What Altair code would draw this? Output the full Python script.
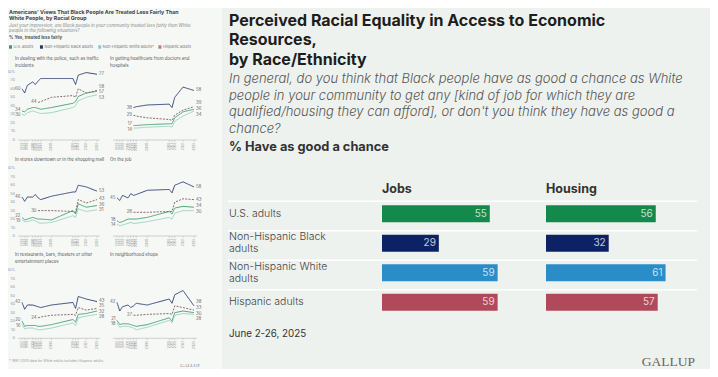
import altair as alt
import numpy as np
import pandas as pd

# ---------------- data: right panel (bar chart) ----------------
groups = ["U.S. adults", "Non-Hispanic Black adults", "Non-Hispanic White adults", "Hispanic adults"]
group_labels = ["U.S. adults", "Non-Hispanic Black\nadults", "Non-Hispanic White\nadults", "Hispanic adults"]
jobs = [55, 29, 59, 59]
housing = [56, 32, 61, 57]
bar_colors = ["#13894b", "#0d2265", "#2a8dc8", "#b04a5a"]

# ---------------- data: left panel (trend lines) ----------------
years = [1997, 1998, 1999, 2001, 2002, 2003, 2004, 2008, 2016, 2017, 2018, 2021, 2025]
series = ["U.S. adults", "Non-Hispanic Black adults", "Non-Hispanic White adults*", "Hispanic adults"]
line_colors = ["#3b9b66", "#27346a", "#93cfc0", "#7a5a60"]
legend_colors = ["#3b9b66", "#27346a", "#8cc3dc", "#c9727e"]
N = None

police_us = [34, 33, 36, 38, 38, 37, 36, 38, 43, 45, 51, 55, 57]
police_black = [60, 55, 64, 68, 65, 69, 72, 72, 72, 65, 76, 79, 77]
police_white = [30, 29, 32, 34, 33, 32, 31, 32, 38, 40, 46, 50, 53]
police_hisp = [N, N, N, N, N, 44, 45, 50, 52, 50, 60, 55, 58]

health_us = [N, N, N, N, N, 17, 17, 18, 19, 19, 26, 33, 36]
health_black = [N, N, N, N, N, 38, 39, 41, 42, 38, 50, 62, 58]
health_white = [N, N, N, N, N, 14, 14, 15, 16, 15, 22, 28, 34]
health_hisp = [N, N, N, N, N, 29, 28, 26, 24, 23, 29, 35, 39]

stores_us = [22, 19, 20, 22, 21, 20, 20, 19, 30, 26, 38, 34, 36]
stores_black = [46, 41, 46, 46, 49, 45, 43, 47, 52, 52, 60, 58, 53]
stores_white = [19, 17, 17, 19, 18, 16, 15, 16, 24, 22, 32, 29, 31]
stores_hisp = [N, N, N, N, N, 30, 30, 30, 29, 28, 43, 39, 43]

job_us = [18, 16, 17, 20, 20, 20, 20, 22, 29, 26, 33, 35, 34]
job_black = [45, 42, 48, 45, 50, 48, 49, 54, 55, 51, 60, 64, 58]
job_white = [14, 12, 13, 15, 16, 15, 15, 17, 22, 20, 27, 30, 30]
job_hisp = [N, N, N, N, N, 28, 28, 28, 29, 29, 40, 44, 43]

rest_us = [20, 14, 15, 15, 15, 14, 14, 16, 22, 19, 28, 29, 32]
rest_black = [42, 34, 39, 39, 38, 37, 36, 39, 42, 35, 49, 46, 43]
rest_white = [16, 11, 12, 12, 11, 10, 10, 12, 18, 15, 24, 26, 28]
rest_hisp = [N, N, N, N, N, 24, 25, 27, 28, 27, 36, 33, 35]

shop_us = [21, 16, 17, 17, 16, 15, 14, 16, 24, 20, 30, 32, 30]
shop_black = [42, 32, 37, 39, 36, 38, 41, 39, 46, 41, 51, 56, 38]
shop_white = [18, 13, 14, 14, 13, 12, 10, 13, 21, 18, 27, 29, 28]
shop_hisp = [N, N, N, N, N, 27, 27, 28, 29, 28, 38, 36, 33]

panel_titles = [
    "In dealing with the police, such as traffic\nincidents",
    "In getting healthcare from doctors and\nhospitals",
    "In stores downtown or in the shopping mall",
    "On the job",
    "In restaurants, bars, theaters or other\nentertainment places",
    "In neighborhood shops",
]
panel_values = [
    [police_us, police_black, police_white, police_hisp],
    [health_us, health_black, health_white, health_hisp],
    [stores_us, stores_black, stores_white, stores_hisp],
    [job_us, job_black, job_white, job_hisp],
    [rest_us, rest_black, rest_white, rest_hisp],
    [shop_us, shop_black, shop_white, shop_hisp],
]
y_ticks = [0, 10, 20, 30, 40, 50, 60, 70, 80]

# ---------------- layout ----------------
W, H = 702, 361
BG = "#eef2ee"
LEFT_BG = "#f6f8f5"
FONT = "Inter"
one = pd.DataFrame({"a": [0]})


def txt(s, x, y, size, weight="normal", style="normal", color="#222", font=FONT,
        align="left", lh=None, baseline="alphabetic"):
    props = dict(text=s, fontSize=size, fontWeight=weight, fontStyle=style, color=color,
                 font=font, align=align, baseline=baseline)
    if "\n" in s:
        props["lineBreak"] = "\n"
        props["lineHeight"] = lh
    return alt.Chart(one).mark_text(**props).encode(x=alt.value(x), y=alt.value(y))


def dodge(vals, gap):
    pos = [float(v) for v in vals]
    for _ in range(100):
        moved = False
        order = sorted(range(len(pos)), key=lambda i: -pos[i])
        for a, b in zip(order, order[1:]):
            if pos[a] - pos[b] < gap:
                d = (gap - (pos[a] - pos[b])) / 2
                pos[a] += d
                pos[b] -= d
                moved = True
        if not moved:
            break
    return pos


col_x = [(14, 89), (109, 186)]
row_y = [(132, 63.7), (228, 160.3), (330.3, 262)]
title_y = [52, 153.3, 248]


def small_panel(k):
    values = panel_values[k]
    col, row = k % 2, k // 2
    x0, x1 = col_x[col]
    ybot, ytop = row_y[row]
    recs = []
    for s, vals in zip(series, values):
        for yr, v in zip(years, vals):
            if v is not None:
                recs.append({"series": s, "year": yr, "value": v})
    df = pd.DataFrame(recs)

    xs = alt.Scale(domain=[1997, 2025], range=[x0, x1])
    ys = alt.Scale(domain=[0, 80], range=[ybot, ytop])
    X = alt.X("year:Q", scale=xs, axis=None)
    cs = alt.Scale(domain=series, range=line_colors)
    lines = alt.Chart(df).mark_line(strokeWidth=0.9).encode(
        x=X,
        y=alt.Y("value:Q", scale=ys, axis=None),
        color=alt.Color("series:N", scale=cs, legend=None),
        strokeDash=alt.StrokeDash("series:N", scale=alt.Scale(
            domain=series, range=[[1, 0], [1, 0], [1, 0], [2, 1.3]]), legend=None),
    )

    lab = []
    for kind in ("start", "end"):
        pts = []
        for s, vals in zip(series, values):
            idx = [i for i, v in enumerate(vals) if v is not None]
            i = idx[0] if kind == "start" else idx[-1]
            pts.append((s, years[i], vals[i]))
        for yr in sorted(set(p[1] for p in pts)):
            grp = [p for p in pts if p[1] == yr]
            pos = dodge([p[2] for p in grp], 6.5)
            for p, q in zip(grp, pos):
                lab.append({"series": p[0], "year": p[1], "value": p[2], "pos": q, "kind": kind})
    ldf = pd.DataFrame(lab)
    start_lab = alt.Chart(ldf[ldf.kind == "start"]).mark_text(
        align="right", baseline="middle", dx=-1.5, fontSize=4.3, font=FONT, color="#666"
    ).encode(x=X, y=alt.Y("pos:Q", scale=ys, axis=None), text="value:Q")
    end_lab = alt.Chart(ldf[ldf.kind == "end"]).mark_text(
        align="left", baseline="middle", dx=2, fontSize=4.3, font=FONT, color="#666"
    ).encode(x=X, y=alt.Y("pos:Q", scale=ys, axis=None), text="value:Q")

    ydf = pd.DataFrame({"year": years})
    base = alt.Chart(one).mark_rule(color="#b5b5b5", strokeWidth=0.6).encode(
        x=alt.X(datum=1995.5, scale=xs, axis=None), x2=alt.datum(2026),
        y=alt.Y(datum=0, scale=ys, axis=None))
    ticks = alt.Chart(ydf).mark_rule(color="#b5b5b5", strokeWidth=0.5).encode(
        x=X, y=alt.Y(datum=0, scale=ys, axis=None), y2=alt.datum(-2.2))
    ylabs = alt.Chart(ydf).mark_text(
        angle=270, align="right", baseline="middle", fontSize=3.3, font=FONT, color="#999"
    ).encode(x=X, y=alt.Y(datum=-3.2, scale=ys, axis=None), text="year:N")

    parts = [base, ticks, ylabs, lines, start_lab, end_lab]
    if col == 0:
        tdf = pd.DataFrame({"tick": y_ticks,
                            "lab": [("%d%%" % t) if t == 80 else str(t) for t in y_ticks]})
        axlab = alt.Chart(tdf).mark_text(
            align="right", baseline="middle", fontSize=3.8, font=FONT, color="#999"
        ).encode(x=alt.value(x0 - 7), y=alt.Y("tick:Q", scale=ys, axis=None), text="lab:N")
        parts.append(axlab)
    parts.append(txt(panel_titles[k], x0 - 7, title_y[row], 4.4, color="#555", lh=6.8))
    return parts


layers = []
layers.append(alt.Chart(one).mark_rect(color=LEFT_BG).encode(
    x=alt.value(0), x2=alt.value(214), y=alt.value(0), y2=alt.value(H)))

# left panel header
layers.append(txt("Americans' Views That Black People Are Treated Less Fairly Than\nWhite People, by Racial Group",
                  1, 5.5, 5.3, weight="bold", color="#444", lh=6.6))
layers.append(txt("Just your impression, are Black people in your community treated less fairly than White\npeople in the following situations?",
                  1, 18.5, 4.4, style="italic", color="#888", lh=5.8))
layers.append(txt("% Yes, treated less fairly", 1, 30.5, 4.4, weight="bold", color="#555"))

# colour key for the left panel (entries laid out one after another)
LEG_FS = 3.9
lx = 1.0
for s, c in zip(series, legend_colors):
    layers.append(alt.Chart(one).mark_rect(color=c).encode(
        x=alt.value(lx), x2=alt.value(lx + 3), y=alt.value(37.3), y2=alt.value(40.7)))
    layers.append(txt(s, lx + 4.5, 39, LEG_FS, color="#777", baseline="middle"))
    lx += 4.5 + len(s) * LEG_FS * 0.5 + 5

for k in range(6):
    layers.extend(small_panel(k))
layers.append(txt("* 1997-2000 data for White adults includes Hispanic adults", 1, 354, 3.4, color="#999"))
layers.append(txt("GALLUP", 192, 359, 5, color="#888", font="Liberation Serif", align="right"))

# right panel text
RX = 221
layers.append(txt("Perceived Racial Equality in Access to Economic\nResources,\nby Race/Ethnicity",
                  RX, 18, 16, weight="bold", color="#1d1d1d", lh=19.3))
layers.append(txt("In general, do you think that Black people have as good a chance as White\n"
                  "people in your community to get any [kind of job for which they are\n"
                  "qualified/housing they can afford], or don't you think they have as good a\nchance?",
                  RX, 75.3, 13, style="italic", weight=300, color="#555", lh=16.5))
layers.append(txt("% Have as good a chance", RX, 142.7, 12.8, weight="bold", color="#333"))
layers.append(txt("Jobs", 374, 184.7, 12.5, weight="bold", color="#333"))
layers.append(txt("Housing", 538, 184.7, 12.5, weight="bold", color="#333"))

bdf = pd.DataFrame({"group": groups, "label": group_labels, "jobs": jobs, "housing": housing})
bdf["nlines"] = bdf["label"].str.count("\n") + 1
YS = alt.Scale(domain=groups, range=[191, 309], paddingInner=0.424, paddingOuter=0.212)
YB = alt.Y("group:N", sort=groups, axis=None, scale=YS)
CB = alt.Color("group:N", scale=alt.Scale(domain=groups, range=bar_colors), legend=None)
XJ = alt.X("jobs:Q", scale=alt.Scale(domain=[0, 100], range=[374, 570]), axis=None)
XH = alt.X("housing:Q", scale=alt.Scale(domain=[0, 100], range=[538, 734]), axis=None)
LH = 11.7

layers.append(alt.Chart(bdf).mark_rule(color="white", strokeWidth=1.5, yOffset=-12.5).encode(
    y=YB, x=alt.value(220), x2=alt.value(689)))
for n in (1, 2):
    layers.append(alt.Chart(bdf).transform_filter(alt.datum.nlines == n).mark_text(
        align="left", baseline="middle", fontSize=10.5, font=FONT, fontWeight=300, color="#444",
        lineBreak="\n", lineHeight=LH, dy=-(n - 1) * LH / 2
    ).encode(y=YB, x=alt.value(RX), text="label:N"))
layers.append(alt.Chart(bdf).mark_bar().encode(x=XJ, y=YB, color=CB))
layers.append(alt.Chart(bdf).mark_text(align="right", baseline="middle", dx=-3, fontSize=10, font=FONT,
                                       color="white", opacity=0.75).encode(x=XJ, y=YB, text="jobs:Q"))
layers.append(alt.Chart(bdf).mark_bar().encode(x=XH, y=YB, color=CB))
layers.append(alt.Chart(bdf).mark_text(align="right", baseline="middle", dx=-3, fontSize=10, font=FONT,
                                       color="white", opacity=0.75).encode(x=XH, y=YB, text="housing:Q"))

layers.append(txt("June 2-26, 2025", RX, 328.7, 9.8, color="#333"))
layers.append(txt("GALLUP", 687, 357.7, 13.5, color="#666", font="Liberation Serif", align="right"))

chart = alt.layer(*layers).resolve_scale(
    x="independent", y="independent", color="independent", strokeDash="independent"
).properties(width=W, height=H, background=BG, padding=0, autosize="none").configure_view(stroke=None)

chart.save("out.html", embed_options={"renderer": "svg", "actions": False})
